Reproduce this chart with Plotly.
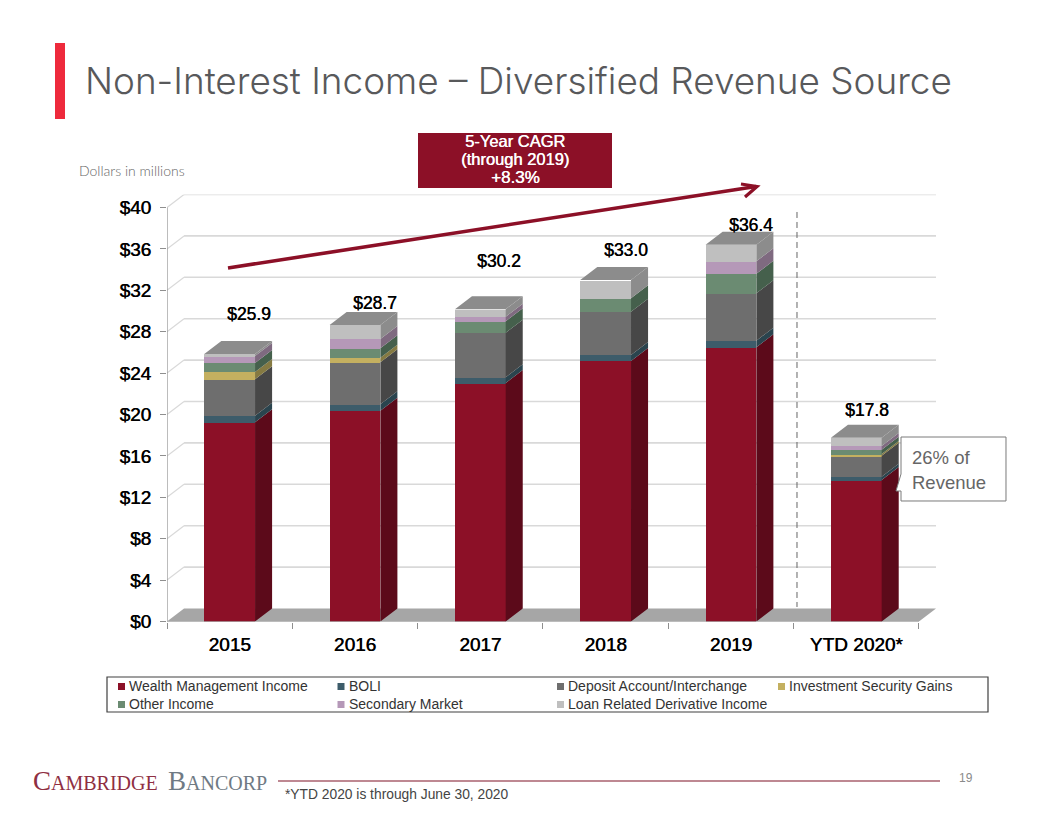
import plotly.graph_objects as go

W, H = 1056, 816

# ---- data ----
categories = ["2015", "2016", "2017", "2018", "2019", "YTD 2020*"]
wealth = [19.25, 20.37, 23.04, 25.17, 26.49, 13.67]
boli = [0.64, 0.62, 0.55, 0.58, 0.64, 0.32]
deposit = [3.52, 4.06, 4.31, 4.18, 4.58, 2.03]
investment = [0.70, 0.44, 0.0, 0.0, 0.0, 0.16]
other = [0.87, 0.91, 1.10, 1.29, 1.89, 0.42]
secondary = [0.68, 0.90, 0.44, 0.0, 1.20, 0.36]
loan = [0.19, 1.35, 0.74, 1.77, 1.60, 0.80]
total_labels = [25.9, 28.7, 30.2, 33.0, 36.4, 17.8]
y_ticks = [0, 4, 8, 12, 16, 20, 24, 28, 32, 36, 40]
series_names = ["Wealth Management Income", "BOLI", "Deposit Account/Interchange",
                "Investment Security Gains", "Other Income", "Secondary Market",
                "Loan Related Derivative Income"]
series_values = [wealth, boli, deposit, investment, other, secondary, loan]

# ---- styles ----
front_colors = ["#8c1027", "#3d5c6a", "#6e6e6e", "#c4b060", "#6b8b72", "#b598b8", "#bfbfbf"]
side_colors = ["#5c0a1a", "#2a444e", "#474747", "#857a42", "#45604c", "#7f6a80", "#8c8c8c"]
top_color = "#8c8c8c"
red = "#8c1027"
ax_gray = "#8f8f8f"
grid_gray = "#d9d9d9"
text_gray = "#58595b"

# geometry (pixels) of the pseudo-3D chart
x_front_l, x_front_r = 167.0, 917.0
x_back_r = 936.0
y_zero, y_forty = 621.5, 207.5
y_back_top = 194.5
per_cat = (x_front_r - x_front_l) / len(categories)
per_unit = (y_zero - y_forty) / 40.0
depth_x = 17.0 / per_cat
depth_y = 13.0 / per_unit
bar_w = 0.405


def px(x):
    return x / W


def py(y):
    return 1 - y / H


centers = [i + 0.5 for i in range(len(categories))]

fig = go.Figure()

# front faces
for name, vals, col in zip(series_names, series_values, front_colors):
    fig.add_trace(go.Bar(x=centers, y=vals, name=name, width=bar_w, marker=dict(color=col, line=dict(width=0)),
                         showlegend=False))

# side faces and tops, derived from the same values
bases = [0.0] * len(categories)
for name, vals, col in zip(series_names, series_values, side_colors):
    xs, ys = [], []
    for i, v in enumerate(vals):
        if v > 0:
            r = centers[i] + bar_w / 2
            a, b = bases[i], bases[i] + v
            xs += [r, r + depth_x, r + depth_x, r, r, None]
            ys += [a, a + depth_y, b + depth_y, b, a, None]
        bases[i] += v
    fig.add_trace(go.Scatter(x=xs, y=ys, mode="lines", fill="toself", fillcolor=col, line=dict(width=0),
                             showlegend=False, hoverinfo="skip"))
xs, ys = [], []
for c, t in zip(centers, bases):
    l, r = c - bar_w / 2, c + bar_w / 2
    xs += [l, l + depth_x, r + depth_x, r, l, None]
    ys += [t, t + depth_y, t + depth_y, t, t, None]
fig.add_trace(go.Scatter(x=xs, y=ys, mode="lines", fill="toself", fillcolor=top_color, line=dict(width=0),
                         showlegend=False, hoverinfo="skip"))

shapes = []
n = len(categories)
# floor
shapes.append(dict(type="path", xref="x", yref="y", layer="below", line=dict(width=0), fillcolor="#a6a6a6",
                   path=f"M0,0 L{depth_x},{depth_y} L{n + depth_x},{depth_y} L{n},0 Z"))
# back-wall gridlines and left connectors
for t in y_ticks[1:]:
    shapes.append(dict(type="line", xref="x", yref="y", layer="below", x0=depth_x, x1=n + depth_x,
                       y0=t + depth_y, y1=t + depth_y, line=dict(color=grid_gray, width=1.6)))
    shapes.append(dict(type="line", xref="x", yref="y", layer="below", x0=0, x1=depth_x,
                       y0=t, y1=t + depth_y, line=dict(color=grid_gray, width=1.2)))
# front axis lines
shapes.append(dict(type="line", xref="x", yref="y", x0=0, x1=0, y0=0, y1=40, line=dict(color=ax_gray, width=1.2)))
shapes.append(dict(type="line", xref="x", yref="y", x0=0, x1=n, y0=0, y1=0, line=dict(color=ax_gray, width=1.2)))


def rect(x0, y0, x1, y1, fill, line=None, lw=0):
    shapes.append(dict(type="rect", xref="paper", yref="paper", x0=px(x0), x1=px(x1), y0=py(y0), y1=py(y1),
                       fillcolor=fill, line=dict(color=line or fill, width=lw), layer="above"))


def pline(pts, color, width, dash="solid", closed=False, fill=None):
    d = "M" + " L".join(f"{px(x):.5f},{py(y):.5f}" for x, y in pts) + (" Z" if closed else "")
    shapes.append(dict(type="path", xref="paper", yref="paper", path=d, line=dict(color=color, width=width, dash=dash),
                       fillcolor=fill or "rgba(0,0,0,0)", layer="above"))


rect(55, 43, 65, 119, "#ee2a3c")
rect(418, 133, 612, 188, red)
# growth arrow
pline([(228, 268), (756, 186.5)], red, 3.6)
pline([(741, 184), (757, 186.5), (745, 197)], red, 3.2)
# YTD divider
pline([(797, 212), (797, 607)], "#666666", 1, dash="6px,4px")
# callout
pline([(901, 437), (1006, 437), (1006, 501), (901, 501), (901, 491), (896, 491), (901, 474)], "#7a7a7a", 1,
      closed=True, fill="white")
# legend box
rect(107, 677, 988, 712, "white", "#404040", 1.2)
# footer rule
pline([(278, 781), (940, 781)], "#a9606e", 1.6)

ann = []


def text(x, y, s, size, color="#000000", family="Liberation Sans", anchor="left", shadow=None, weight=None):
    f = dict(size=size, color=color, family=family)
    if shadow:
        f["shadow"] = shadow
    if weight:
        f["weight"] = weight
    ann.append(dict(x=px(x), y=py(y), xref="paper", yref="paper", text=s, showarrow=False, xanchor=anchor,
                    yanchor="middle", font=f, align=anchor))


text(83, 81, "Non-Interest Income – Diversified Revenue Source", 36.9, text_gray, "Inter", weight=300)
text(77, 170, "Dollars in millions", 14, "#666666", "Lato", weight=300)
text(515, 141.5, "5-Year CAGR", 16.5, "white", shadow="0.4px 0 0 #ffffff", anchor="center")
text(515, 159, "(through 2019)", 16.5, "white", shadow="0.4px 0 0 #ffffff", anchor="center")
text(515, 177, "+8.3%", 17, "white", shadow="0.4px 0 0 #ffffff", anchor="center")
text(910, 457, "26% of", 18.5, "#666666")
text(910, 482, "Revenue", 18.5, "#666666")

# total labels
label_x_px = [249, 375, 499, 626, 751, 867]
label_y_px = [314, 303, 261, 250, 225, 410]
for v, lx, ly in zip(total_labels, label_x_px, label_y_px):
    text(lx, ly, f"${v:.1f}", 17.5, anchor="center", shadow="0.4px 0 0 #000000")

# legend (hand placed to keep the original's tight swatch/text spacing)
leg_x = [118, 337.5, 557, 778, 118, 337.5, 557]
leg_y = [686, 686, 686, 686, 704, 704, 704]
for name, col, lx, ly in zip(series_names, front_colors, leg_x, leg_y):
    rect(lx, ly - 3, lx + 7, ly + 4, col)
    text(lx + 9, ly, name, 14, "#333333")

text(966, 778, "19", 12, "#8a8a8a", anchor="center")
text(283, 794, "*YTD 2020 is through June 30, 2020", 13.8, "#444444")

big, small = 27, 20
logo_a = f'<span style="font-size:{big}px">C</span>AMBRIDGE'
logo_b = f'<span style="font-size:{big}px">B</span>ANCORP'
text(31, 781, logo_a, small, "#8f2f42", "Liberation Serif")
text(166, 781, logo_b, small, "#6f7a84", "Liberation Serif")

fig.update_layout(
    width=W, height=H, autosize=False, barmode="stack", bargap=0,
    margin=dict(l=0, r=0, t=0, b=0), paper_bgcolor="white", plot_bgcolor="white",
    showlegend=False, shapes=shapes, annotations=ann,
    xaxis=dict(domain=[px(x_front_l), px(x_back_r)], range=[0, n + depth_x], tickmode="array", tickvals=centers,
               ticktext=categories, ticks="", showgrid=False, zeroline=False, showline=False, automargin=False,
               tickfont=dict(family="Liberation Sans", size=19, color="#000000", shadow="0.5px 0 0 #000000"),
               ticklabelstandoff=9,
               minor=dict(tickmode="array", tickvals=list(range(n + 1)), ticks="outside", ticklen=6, tickcolor=ax_gray,
                          tickwidth=1.2, showgrid=False)),
    yaxis=dict(domain=[py(y_zero), py(y_back_top)], range=[0, 40 + depth_y], tickmode="array", tickvals=y_ticks,
               ticktext=[f"${t}" for t in y_ticks], ticks="outside", ticklen=6, tickcolor=ax_gray, tickwidth=1.2,
               showgrid=False, zeroline=False, showline=False, ticklabelstandoff=5, automargin=False,
               tickfont=dict(family="Liberation Sans", size=19, color="#000000", shadow="0.5px 0 0 #000000")),
)

fig.write_html("out.html", config={"displayModeBar": False},
               post_script="document.body.style.margin='0';document.body.style.overflow='hidden';")
